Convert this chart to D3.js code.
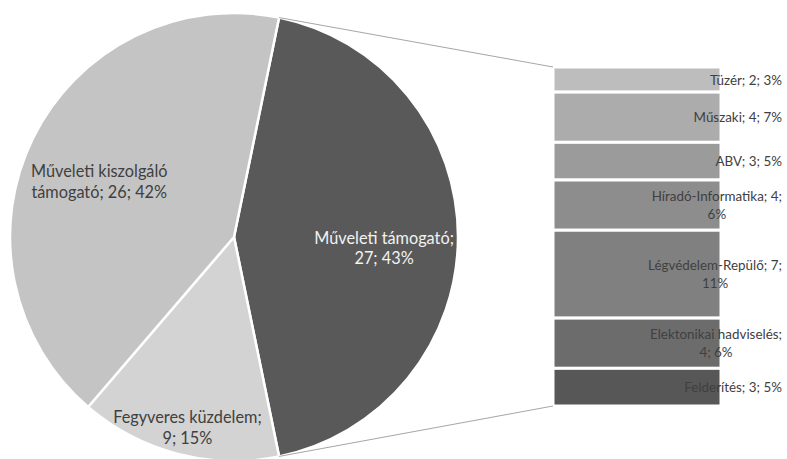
<!DOCTYPE html>
<html><head><meta charset="utf-8">
<script src="https://cdn.jsdelivr.net/npm/d3@7"></script>
<style>
html,body{margin:0;padding:0;background:#fff;}
svg{display:block;font-family:Lato,"Open Sans",sans-serif;}
</style></head>
<body>
<svg id="chart" width="787" height="459"></svg>
<script>
// ---- data ----
const pieCategories = ["Műveleti támogató", "Fegyveres küzdelem", "Műveleti kiszolgáló támogató"];
const pieValues = [27, 9, 26];
const piePercents = ["43%", "15%", "42%"];
const pieColors = ["#595959", "#d3d3d3", "#c4c4c4"];
const pieBreaks = [2, 2, 2];

const barCategories = ["Tüzér", "Műszaki", "ABV", "Híradó-Informatika", "Légvédelem-Repülő", "Elektonikai hadviselés", "Felderítés"];
const barValues = [2, 4, 3, 4, 7, 4, 3];
const barPercents = ["3%", "7%", "5%", "6%", "11%", "6%", "5%"];
const barColors = ["#bdbdbd", "#acacac", "#9b9b9b", "#8d8d8d", "#808080", "#6c6c6c", "#575757"];
const barBreaks = [0, 0, 0, 2, 2, 2, 0];

// ---- layout ----
const svg = d3.select("#chart");
const cx = 234, cy = 237, R = 224;
const total = d3.sum(pieValues);
const splitFrac = pieValues[0] / total;

const pie = d3.pie().sort(null).value(d => d)
  .startAngle(Math.PI / 2 - splitFrac * Math.PI)
  .endAngle(Math.PI / 2 - splitFrac * Math.PI + 2 * Math.PI);
const arcs = pie(pieValues);
const arc = d3.arc().innerRadius(0).outerRadius(R);

const g = svg.append("g").attr("transform", `translate(${cx},${cy})`);
g.selectAll("path.slice").data(arcs).enter().append("path")
  .attr("class", "slice")
  .attr("d", arc)
  .attr("fill", (d, i) => pieColors[i])
  .attr("stroke", "#fff").attr("stroke-width", 2.5).attr("stroke-linejoin", "round");

// bar-of-pie stack
const barTotal = d3.sum(barValues);
const xBand = d3.scaleBand().domain(["stack"]).range([553, 721]);
const yScale = d3.scaleLinear().domain([0, barTotal]).range([67, 406]);
const cum = d3.cumsum(barValues);
const segs = barValues.map((v, i) => ({ v, i, y0: cum[i] - v, y1: cum[i] }));

svg.selectAll("rect.seg").data(segs).enter().append("rect")
  .attr("class", "seg")
  .attr("x", xBand("stack"))
  .attr("width", xBand.bandwidth())
  .attr("y", d => yScale(d.y0))
  .attr("height", d => yScale(d.y1) - yScale(d.y0))
  .attr("fill", d => barColors[d.i])
  .attr("stroke", "#fff").attr("stroke-width", 3);

// connector lines
const a0 = arcs[0].startAngle, a1 = arcs[0].endAngle;
const pt = a => [cx + R * Math.sin(a), cy - R * Math.cos(a)];
const conn = [
  [pt(a0), [xBand("stack"), yScale(0)]],
  [pt(a1), [xBand("stack"), yScale(barTotal)]]
];
svg.selectAll("line.conn").data(conn).enter().append("line")
  .attr("class", "conn")
  .attr("x1", d => d[0][0]).attr("y1", d => d[0][1])
  .attr("x2", d => d[1][0]).attr("y2", d => d[1][1])
  .attr("stroke", "#a6a6a6").attr("stroke-width", 1);

function splitLines(text, nFirst) {
  const words = text.split(" ");
  if (!nFirst || nFirst >= words.length) return [text];
  return [words.slice(0, nFirst).join(" "), words.slice(nFirst).join(" ")];
}

// pie labels (first line placed at the anchor point)
const pieFont = 16.3, pieLH = 20.5;
arcs.forEach((d, i) => {
  const frac = pieValues[i] / total;
  const rr = R * (frac < 0.2 ? 0.83 : 0.67);
  const mid = (d.startAngle + d.endAngle) / 2;
  const lx = cx + rr * Math.sin(mid), ly = cy - rr * Math.cos(mid);
  const lines = splitLines(`${pieCategories[i]}; ${pieValues[i]}; ${piePercents[i]}`, pieBreaks[i]);
  const t = svg.append("text")
    .attr("text-anchor", "middle")
    .attr("font-size", pieFont)
    .attr("fill", i === 0 ? "#f2f2f2" : "#404040");
  lines.forEach((ln, k) => {
    t.append("tspan").attr("x", lx)
      .attr("y", ly + k * pieLH)
      .attr("dominant-baseline", "central")
      .text(ln);
  });
});

// bar labels
const barFont = 13.4, barLH = 18, labelRight = 782;
segs.forEach(d => {
  const i = d.i;
  const lines = splitLines(`${barCategories[i]}; ${barValues[i]}; ${barPercents[i]}`, barBreaks[i]);
  const midY = (yScale(d.y0) + yScale(d.y1)) / 2;
  const t = svg.append("text")
    .attr("font-size", barFont)
    .attr("fill", "#404040")
    .attr("text-anchor", "middle");
  const spans = lines.map((ln, k) => t.append("tspan")
    .attr("y", midY + (k - (lines.length - 1) / 2) * barLH)
    .attr("dominant-baseline", "central")
    .text(ln));
  const maxW = d3.max(spans, s => s.node().getComputedTextLength());
  spans.forEach(s => s.attr("x", labelRight - maxW / 2));
});
</script>
</body></html>
